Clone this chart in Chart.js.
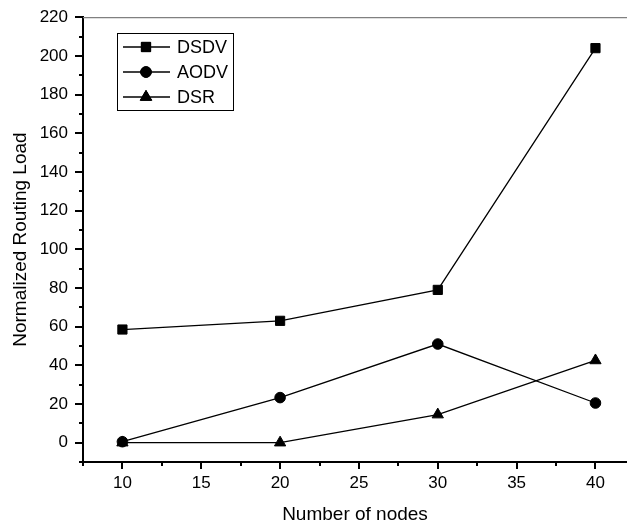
<!DOCTYPE html>
<html><head><meta charset="utf-8">
<script src="https://cdn.jsdelivr.net/npm/chart.js@4.4.0/dist/chart.umd.min.js"></script>
<style>html,body{margin:0;padding:0;background:#fff}#wrap{width:627px;height:526px}</style>
</head><body><div id="wrap"><canvas id="c" width="627" height="526"></canvas></div>
<script>
const nodes = [10, 20, 30, 40];
const dsdv = [58.5, 63, 79, 204];
const aodv = [0.5, 23.3, 51, 20.5];
const dsr = [0, 0, 14.5, 42.5];
const seriesNames = ['DSDV', 'AODV', 'DSR'];
const pointStyles = ['rect', 'circle', 'triangle'];
const pointSizes = [6.5, 5.3, 6.5];
const xTicks = [7.5, 10, 12.5, 15, 17.5, 20, 22.5, 25, 27.5, 30, 32.5, 35, 37.5, 40];
const yTicks = [-10, 0, 10, 20, 30, 40, 50, 60, 70, 80, 90, 100, 110, 120, 130, 140, 150, 160, 170, 180, 190, 200, 210, 220];
const xTitle = 'Number of nodes';
const yTitle = 'Normalized Routing Load';

const FONT = 'Liberation Sans, Arial, sans-serif';
const seriesValues = [dsdv, aodv, dsr];

const datasets = seriesValues.map((vals, i) => ({
  label: seriesNames[i],
  data: nodes.map((n, j) => ({x: n, y: vals[j]})),
  borderColor: '#000',
  backgroundColor: '#000',
  borderWidth: 1.3,
  pointStyle: pointStyles[i],
  pointRadius: pointSizes[i],
  pointBackgroundColor: '#000',
  pointBorderColor: '#000',
  pointBorderWidth: 1,
  tension: 0,
  fill: false
}));

const axisDeco = {
  id: 'axisDeco',
  afterDraw(chart) {
    const ctx = chart.ctx;
    const a = chart.chartArea;
    const xs = chart.scales.x, ys = chart.scales.y;
    ctx.save();
    ctx.strokeStyle = '#808080';
    ctx.lineWidth = 1.3;
    ctx.beginPath();
    ctx.moveTo(a.left, a.top + 0.5);
    ctx.lineTo(chart.width, a.top + 0.5);
    ctx.stroke();
    ctx.strokeStyle = '#000';
    ctx.lineWidth = 2;
    xTicks.forEach(v => {
      const px = Math.round(xs.getPixelForValue(v));
      const len = (v % 5 === 0) ? 7 : 4;
      ctx.beginPath();
      ctx.moveTo(px, a.bottom);
      ctx.lineTo(px, a.bottom + len);
      ctx.stroke();
    });
    yTicks.forEach(v => {
      const py = Math.round(ys.getPixelForValue(v));
      const len = (v % 20 === 0) ? 8 : 4;
      ctx.beginPath();
      ctx.moveTo(a.left, py);
      ctx.lineTo(a.left - len, py);
      ctx.stroke();
    });
    // legend
    const bx = 117.5, by = 33.5, bw = 116, bh = 77;
    ctx.lineWidth = 1;
    ctx.strokeStyle = '#000';
    ctx.fillStyle = '#fff';
    ctx.fillRect(bx, by, bw, bh);
    ctx.strokeRect(bx, by, bw, bh);
    const rows = [47, 72, 97];
    chart.data.datasets.forEach((ds, i) => {
      const y = rows[i];
      ctx.strokeStyle = '#000';
      ctx.lineWidth = 1.3;
      ctx.beginPath();
      ctx.moveTo(123, y);
      ctx.lineTo(170, y);
      ctx.stroke();
      ctx.lineWidth = 1;
      Chart.helpers.drawPoint(ctx, {pointStyle: ds.pointStyle, radius: ds.pointRadius, borderWidth: 1, rotation: 0}, 146, y);
      ctx.fillStyle = '#000';
      ctx.fill();
      ctx.stroke();
      ctx.font = '18px ' + FONT;
      ctx.textBaseline = 'middle';
      ctx.textAlign = 'left';
      ctx.fillText(ds.label, 177, y + 1);
    });
    ctx.restore();
  }
};

new Chart(document.getElementById('c'), {
  type: 'line',
  data: {datasets},
  plugins: [axisDeco],
  options: {
    responsive: false,
    devicePixelRatio: 1,
    animation: false,
    layout: {autoPadding: false, padding: {top: 13, right: 0, left: 0, bottom: 0}},
    plugins: {legend: {display: false}, tooltip: {enabled: false}},
    scales: {
      x: {
        type: 'linear',
        min: 7.5, max: 42,
        afterBuildTicks: s => { s.ticks = xTicks.map(v => ({value: v})); },
        afterFit: s => { s.height = 64; s.paddingRight = 0; s.paddingLeft = 0; },
        ticks: {
          autoSkip: false, maxRotation: 0,
          callback: v => (v % 5 === 0 ? String(v) : ''),
          font: {family: FONT, size: 17}, color: '#000', padding: 3
        },
        grid: {drawOnChartArea: false, drawTicks: true, tickLength: 8, color: 'rgba(0,0,0,0)'},
        border: {display: true, color: '#000', width: 2},
        title: {display: true, text: xTitle, font: {family: FONT, size: 19}, color: '#000', padding: {top: 2, bottom: 0}}
      },
      y: {
        type: 'linear',
        min: -10, max: 220,
        afterBuildTicks: s => { s.ticks = yTicks.map(v => ({value: v})); },
        afterFit: s => { s.width = 83; },
        ticks: {
          autoSkip: false,
          callback: v => (v % 20 === 0 && v >= 0 ? String(v) : ''),
          font: {family: FONT, size: 17}, color: '#000', padding: 7
        },
        grid: {drawOnChartArea: false, drawTicks: true, tickLength: 8, color: 'rgba(0,0,0,0)'},
        border: {display: true, color: '#000', width: 2},
        title: {display: true, text: yTitle, font: {family: FONT, size: 19}, color: '#000', padding: {top: 9, bottom: 0}}
      }
    }
  }
});
</script>
</body></html>
